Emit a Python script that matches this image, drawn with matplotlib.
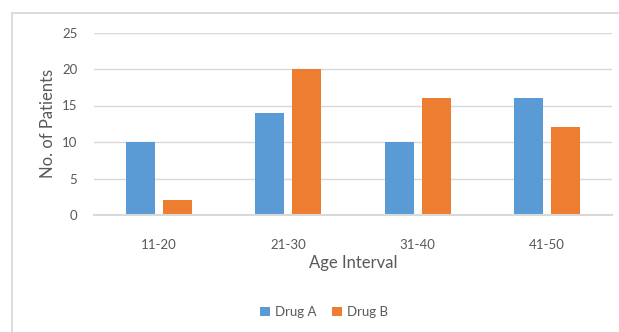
import matplotlib
matplotlib.use("Agg")
import matplotlib.pyplot as plt
from matplotlib.patches import Rectangle
import numpy as np

categories = ["11-20", "21-30", "31-40", "41-50"]
drug_a = [10, 14, 10, 16]
drug_b = [2, 20, 16, 12]
series_names = ["Drug A", "Drug B"]
y_ticks = [0, 5, 10, 15, 20, 25]

BLUE = "#5B9BD5"
ORANGE = "#ED7D31"
TEXT = "#595959"
GRID = "#D9D9D9"

plt.rcParams["font.family"] = ["Lato", "DejaVu Sans"]

W, H = 619, 332
fig = plt.figure(figsize=(W / 100, H / 100), dpi=100)
fig.patch.set_facecolor("white")

# chart frame (left and top edges visible)
fig.add_artist(Rectangle((12 / W, -0.05), 1.1, 1 - 13 / H + 0.05,
                         transform=fig.transFigure, fill=False,
                         edgecolor="#D9D9D9", linewidth=1.3))

left, right = 94 / W, 612 / W
bottom, top = 1 - 215 / H, 1 - 32.5 / H
ax = fig.add_axes([left, bottom, right - left, top - bottom])

x = np.arange(len(categories))
bw = 0.224
gap = 0.062
ax.bar(x - (bw + gap) / 2, drug_a, bw, color=BLUE, label=series_names[0], zorder=3)
ax.bar(x + (bw + gap) / 2, drug_b, bw, color=ORANGE, label=series_names[1], zorder=3)

ax.set_xlim(-0.5, len(categories) - 0.5)
ax.set_ylim(0, 25)
ax.set_yticks(y_ticks)
ax.set_xticks(x)
ax.set_xticklabels(categories)
ax.yaxis.grid(True, color=GRID, linewidth=1.0, zorder=0)
ax.set_axisbelow(True)
for s in ["top", "right", "left"]:
    ax.spines[s].set_visible(False)
ax.spines["bottom"].set_color(GRID)
ax.spines["bottom"].set_linewidth(1.5)
ax.spines["bottom"].set_zorder(4)
ax.tick_params(axis="both", length=0, labelsize=9.5, colors=TEXT)
ax.tick_params(axis="x", pad=17)
ax.tick_params(axis="y", pad=12)

ax.set_xlabel("Age Interval", fontsize=12, color=TEXT, labelpad=3)
ax.set_ylabel("No. of Patients", fontsize=12, color=TEXT, labelpad=4)

fig.legend(*ax.get_legend_handles_labels(), loc="center",
           bbox_to_anchor=(324 / W, 1 - 312 / H), ncol=2, frameon=False,
           fontsize=9.5, labelcolor=TEXT, handlelength=0.75, handleheight=0.75,
           handletextpad=0.35, columnspacing=1.2)

fig.savefig("out.png", dpi=100, facecolor="white")
